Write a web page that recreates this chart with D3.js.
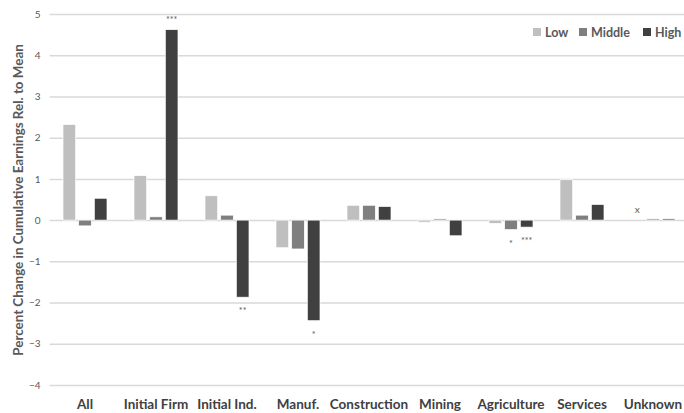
<!DOCTYPE html>
<html><head><meta charset="utf-8">
<script src="https://cdn.jsdelivr.net/npm/d3@7"></script>
<style>body{margin:0;background:#fff}svg{display:block}text{font-family:Lato,"Open Sans",sans-serif}</style>
</head><body><svg id="c" width="684" height="413"></svg>
<script>
const categories = ["All","Initial Firm","Initial Ind.","Manuf.","Construction","Mining","Agriculture","Services","Unknown"];
const seriesNames = ["Low","Middle","High"];
const low    = [2.32, 1.08, 0.59, -0.67, 0.36, -0.05, -0.08, 0.98, null];
const middle = [-0.14, 0.08, 0.12, -0.70, 0.36, 0.03, -0.23, 0.12, 0.03];
const high   = [0.53, 4.62, -1.87, -2.44, 0.33, -0.38, -0.17, 0.38, 0.03];
const yTicks = [5,4,3,2,1,0,-1,-2,-3,-4];
const marks = [
  {cat:"Initial Firm", s:"High", text:"***"},
  {cat:"Initial Ind.", s:"High", text:"**"},
  {cat:"Manuf.", s:"High", text:"*"},
  {cat:"Agriculture", s:"Middle", text:"*"},
  {cat:"Agriculture", s:"High", text:"***"},
  {cat:"Unknown", s:"Low", text:"x"}
];
const colors = {Low:"#bfbfbf", Middle:"#7f7f7f", High:"#404040"};
const vals = {Low:low, Middle:middle, High:high};

const svg = d3.select("#c");
const y = d3.scaleLinear().domain([-4,5]).range([385,14]);
const x0 = d3.scaleBand().domain(categories).range([49.5,688.5]).padding(0);
const x1 = d3.scaleBand().domain(seriesNames).range([-22,22]).paddingInner(0.19).paddingOuter(0);

// gridlines
const yAxis = d3.axisLeft(y).tickValues(yTicks).tickSize(-(688.5-49.5)).tickFormat(d3.format("d"));
const ga = svg.append("g").attr("transform","translate(49.5,0)").call(yAxis);
ga.select(".domain").remove();
ga.selectAll(".tick line").attr("stroke","#d9d9d9").attr("stroke-width",1.5);
ga.selectAll(".tick text").attr("x",-9).attr("fill","#595959").attr("font-size",10);

// bars
const data = [];
categories.forEach((c,i)=>seriesNames.forEach(s=>{ if(vals[s][i]!==null) data.push({c,s,v:vals[s][i]}); }));
svg.append("g").selectAll("rect").data(data).join("rect")
  .attr("x",d=>x0(d.c)+x0.bandwidth()/2+x1(d.s))
  .attr("width",x1.bandwidth())
  .attr("y",d=>y(Math.max(0,d.v)))
  .attr("height",d=>Math.abs(y(d.v)-y(0)))
  .attr("fill",d=>colors[d.s])
  .attr("stroke","#ffffff").attr("stroke-width",0.7);

// significance markers
svg.append("g").selectAll("text").data(marks).join("text")
  .attr("x",d=>x0(d.cat)+x0.bandwidth()/2+x1(d.s)+x1.bandwidth()/2)
  .attr("y",d=>{
    const i = categories.indexOf(d.cat);
    const v = vals[d.s][i];
    if(v===null) return y(0)-7;
    return v>=0 ? y(v)-7 : y(v)+17;
  })
  .attr("text-anchor","middle")
  .attr("fill","#595959")
  .attr("font-size",d=>d.text==="x"?10:9)
  .text(d=>d.text);

// x labels
svg.append("g").selectAll("text").data(categories).join("text")
  .attr("x",d=>x0(d)+x0.bandwidth()/2)
  .attr("y",409)
  .attr("text-anchor","middle")
  .attr("font-size",13.5).attr("font-weight","bold").attr("fill","#404040")
  .text(d=>d);

// y title
svg.append("text")
  .attr("transform","translate(23,200) rotate(-90)")
  .attr("text-anchor","middle")
  .attr("font-size",13.4).attr("font-weight","bold").attr("fill","#595959")
  .text("Percent Change in Cumulative Earnings Rel. to Mean");

// legend
const legX = {Low:533, Middle:579, High:643};
const lg = svg.append("g").selectAll("g").data(seriesNames).join("g")
  .attr("transform",d=>`translate(${legX[d]},28)`);
lg.append("rect").attr("width",8).attr("height",8).attr("fill",d=>colors[d]);
lg.append("text").attr("x",12).attr("y",8.5).attr("font-size",12.5).attr("font-weight","bold").attr("fill","#595959").text(d=>d);
</script></body></html>
